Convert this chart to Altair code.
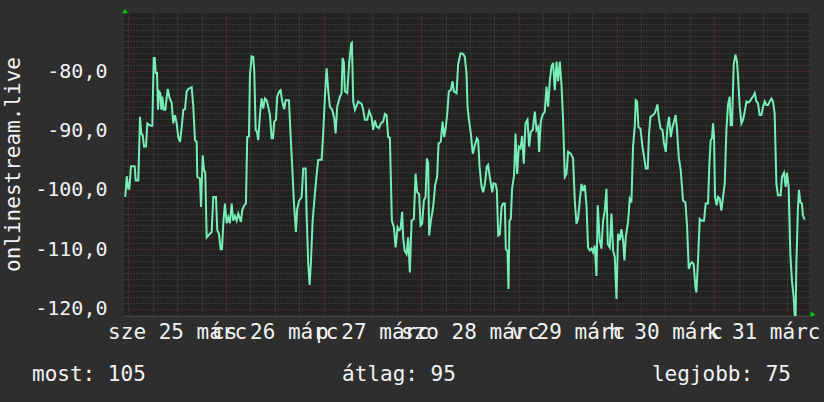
import altair as alt
import pandas as pd

# hours since 25 March 00:00 and measured value
hours = [-0.74,-0.39,0.0,0.25,0.66,1.57,1.82,2.46,2.87,3.19,3.54,3.86,4.35,4.67,5.50,5.90,6.24,6.49,6.73,7.05,
7.30,7.54,7.86,8.11,8.35,8.70,9.09,9.68,10.17,10.66,11.05,11.47,11.89,12.28,12.70,13.12,13.51,13.93,14.35,14.74,
15.57,15.97,16.38,16.80,16.95,17.61,17.86,18.28,18.60,18.91,19.26,19.65,20.07,20.49,20.88,21.54,21.86,22.28,22.70,23.02,
23.34,23.75,24.17,24.57,24.98,25.40,25.79,26.21,26.63,27.02,27.68,28.00,28.50,28.91,29.23,29.65,29.90,30.31,30.71,30.95,
31.30,31.62,31.93,32.35,32.77,33.16,33.58,34.00,34.39,34.81,35.23,35.55,35.86,36.28,36.60,37.09,37.44,37.83,38.32,38.67,
39.48,39.89,40.29,40.70,41.20,41.51,42.01,42.60,42.99,43.58,43.82,44.22,44.56,44.88,45.30,45.86,46.28,46.67,47.51,47.90,
48.32,48.74,49.13,49.55,50.11,50.60,50.95,51.34,52.00,52.42,52.67,52.99,53.23,53.80,54.29,54.78,54.95,55.28,55.69,56.11,
56.50,57.33,57.73,58.14,58.71,59.20,59.79,60.18,60.60,61.02,61.59,62.08,62.64,63.06,63.48,63.87,64.29,64.78,65.27,65.69,
66.18,66.57,66.91,67.31,67.55,67.90,68.39,68.78,69.20,69.62,70.18,70.60,70.99,71.48,71.83,72.22,72.64,73.06,73.38,73.70,
73.94,74.36,74.92,75.41,75.90,76.25,76.81,77.23,77.63,78.04,78.46,78.78,79.27,79.69,80.01,80.67,81.06,81.65,82.29,82.71,
83.13,83.37,83.69,84.18,84.67,85.17,85.66,85.98,86.32,86.81,87.21,87.62,88.11,88.43,88.85,89.10,89.43,89.77,90.27,90.59,
90.91,91.31,91.73,92.12,92.54,92.78,93.20,93.44,93.69,94.01,94.33,94.82,95.17,95.56,95.98,96.39,96.79,97.20,97.62,98.11,
98.51,98.92,99.42,99.91,100.32,100.72,100.96,101.38,101.80,102.36,102.78,103.17,103.59,104.01,104.40,104.82,105.24,105.63,106.05,106.47,
106.86,107.28,107.69,108.09,108.75,109.31,109.73,110.15,110.54,110.96,111.38,111.77,112.19,112.61,113.00,113.41,113.83,114.22,114.64,115.06,
115.38,115.87,116.29,116.68,117.10,117.52,117.84,118.33,118.75,119.14,119.56,119.98,120.37,120.79,121.20,121.60,121.94,122.26,122.83,123.25,
123.66,124.05,124.47,124.72,125.04,125.38,125.88,126.37,126.76,127.17,127.66,127.98,128.33,128.96,129.38,129.80,130.05,130.37,130.78,131.28,
131.67,132.09,132.51,132.90,133.32,133.74,134.13,134.54,134.86,135.28,135.77,136.34,136.93,137.32,137.74,138.15,138.55,138.96,139.38,139.63,
140.02,140.44,140.93,141.50,141.91,142.48,142.82,143.14,143.46,143.71,143.96,144.20,144.62,144.94,145.36,145.77,146.17,146.58,147.00,147.39,
147.81,148.05,148.37,148.79,149.21,149.60,149.85,150.27,150.69,151.08,151.50,151.92,152.31,152.73,153.15,153.54,153.96,154.37,154.77,155.18,
155.60,156.00,156.42,156.83,157.23,157.65,158.07,158.45,158.86,159.28,159.67,160.34,160.66,161.15,161.57,161.89,162.30,162.72,163.11,163.53,
163.78,164.02,164.19,164.58,164.83,165.17,165.57,165.81,166.23]

values = [-101.2,-97.7,-99.8,-99.8,-96.0,-96.0,-98.4,-98.4,-87.7,-90.5,-90.8,-92.7,-92.7,-88.8,-89.2,-89.2,-77.8,-77.8,-80.3,-80.3,
-86.5,-83.4,-83.7,-86.5,-84.3,-86.5,-86.5,-83.0,-84.6,-85.4,-88.8,-87.4,-88.8,-91.1,-91.9,-89.5,-86.5,-86.4,-83.4,-83.0,
-82.7,-86.0,-91.6,-91.9,-97.8,-98.1,-102.9,-94.2,-96.7,-97.0,-108.0,-107.7,-107.4,-107.1,-101.2,-101.2,-106.8,-107.4,-110.0,-110.0,
-105.7,-102.3,-105.6,-104.6,-105.6,-102.3,-105.2,-104.4,-105.2,-104.0,-105.4,-103.4,-102.6,-102.3,-91.1,-91.0,-80.6,-77.5,-77.6,-79.8,
-89.9,-90.2,-91.6,-87.4,-84.6,-86.3,-84.6,-84.9,-86.0,-87.4,-91.3,-91.3,-88.5,-88.2,-84.3,-83.4,-83.2,-85.1,-86.4,-84.9,
-84.9,-90.8,-96.1,-102.1,-107.1,-103.2,-101.8,-101.2,-96.4,-96.4,-104.0,-112.5,-116.0,-112.2,-105.2,-100.6,-97.5,-95.0,-94.9,-90.5,
-84.3,-79.5,-83.2,-86.0,-86.5,-87.9,-90.5,-86.0,-84.3,-83.7,-77.8,-78.6,-83.4,-83.7,-78.6,-75.3,-75.2,-85.1,-86.5,-85.8,
-85.1,-85.5,-86.5,-88.2,-88.2,-86.7,-87.8,-89.9,-88.3,-89.3,-89.6,-88.8,-88.5,-87.2,-87.4,-91.1,-91.2,-105.2,-106.3,-109.7,
-106.3,-106.8,-106.6,-103.7,-108.0,-110.2,-110.8,-108.0,-113.9,-105.2,-104.9,-97.3,-100.4,-100.7,-106.0,-105.7,-101.8,-101.2,-94.7,-95.5,
-107.7,-105.2,-102.9,-99.2,-97.8,-92.2,-91.9,-88.5,-91.1,-89.4,-86.5,-83.4,-83.2,-81.7,-83.4,-83.7,-78.9,-77.0,-77.1,-77.6,
-80.5,-86.0,-88.0,-90.5,-93.9,-92.5,-91.3,-91.6,-96.0,-99.4,-100.4,-99.1,-96.1,-95.8,-97.8,-98.9,-100.4,-98.9,-99.0,-100.1,
-107.7,-107.5,-102.9,-102.3,-102.3,-110.0,-110.3,-116.7,-105.2,-104.9,-99.8,-97.5,-90.5,-97.3,-92.7,-93.0,-90.9,-95.6,-88.8,-88.2,
-92.7,-90.2,-89.9,-86.8,-89.9,-89.4,-93.6,-88.5,-87.4,-86.8,-82.6,-86.0,-81.7,-79.2,-78.6,-83.2,-78.4,-81.7,-78.4,-82.3,
-88.2,-97.8,-97.3,-93.6,-93.9,-94.7,-101.8,-105.7,-104.9,-101.8,-99.0,-100.2,-99.2,-102.6,-109.7,-110.2,-109.9,-110.5,-109.4,-114.5,
-102.6,-108.5,-109.9,-105.2,-103.5,-99.8,-109.1,-109.7,-104.0,-110.2,-111.3,-118.4,-107.4,-108.5,-106.6,-108.5,-111.9,-108.0,-105.4,-101.5,
-102.1,-92.7,-89.4,-84.9,-85.1,-89.4,-89.7,-92.7,-94.4,-96.4,-96.4,-90.5,-87.7,-87.4,-87.1,-86.2,-85.6,-87.8,-89.6,-89.9,
-92.2,-93.6,-89.4,-87.7,-91.1,-89.4,-88.5,-87.4,-89.9,-94.4,-96.7,-101.8,-102.1,-105.9,-113.3,-112.5,-112.2,-112.5,-116.4,-117.3,
-111.9,-104.9,-105.2,-105.2,-102.3,-102.3,-95.6,-91.6,-91.3,-88.8,-91.0,-101.2,-102.6,-101.2,-101.5,-103.5,-101.2,-99.0,-89.9,-85.7,
-84.3,-89.1,-89.1,-78.9,-77.2,-78.4,-80.9,-86.0,-88.8,-88.2,-86.8,-85.1,-85.3,-85.1,-84.6,-84.3,-83.7,-85.1,-85.4,-87.4,
-87.4,-86.0,-85.1,-85.7,-85.7,-85.1,-84.6,-85.1,-87.1,-99.0,-100.9,-100.9,-97.8,-97.1,-99.5,-97.1,-99.5,-111.0,-115.3,-118.1,
-121.2,-121.2,-112.5,-103.2,-100.0,-102.1,-102.3,-104.3,-105.0]

day_labels = ["sze 25 márc", "cs 26 márc", "p 27 márc", "szo 28 márc",
              "v 29 márc", "h 30 márc", "k 31 márc"]
x_ticks = list(range(0, 168, 6))
y_ticks = list(range(-121, -70))
x_domain = [-1.06, 167.3]
y_domain = [-121.25, -70.2]
y_title = "onlinestream.live"
summary_texts = ["most: 105", "átlag: 95", "legjobb: 75"]

MONO = "DejaVu Sans Mono"
TXT = "#f2f2f2"
RED = "#7e3636"
GRAY = "#4e4e4e"
LINE = "#76eeb6"
BG = "#2e2e2e"

df = pd.DataFrame({"h": hours, "v": values})

label_arr = "[" + ",".join("'%s'" % s for s in day_labels) + "]"

x_axis = alt.Axis(
    values=x_ticks, grid=True,
    gridColor={"condition": {"test": "datum.value % 24 === 0", "value": RED}, "value": GRAY},
    gridDash=[1, 2], gridWidth=1, ticks=False,
    labelExpr=f"datum.value % 24 === 12 ? {label_arr}[floor(datum.value / 24)] : ''",
    labelOverlap=False, labelFlush=False, labelBound=False,
    labelFont=MONO, labelFontSize=21, labelColor=TXT, labelPadding=5,
    domainColor="#444444", title=None,
)
y_axis = alt.Axis(
    values=y_ticks, grid=True,
    gridColor={"condition": {"test": "datum.value % 10 === 0", "value": RED}, "value": GRAY},
    gridDash=[1, 2], gridWidth=1, ticks=False,
    labelExpr="datum.value % 10 === 0 ? (datum.value < 0 ? '-' : '') + abs(datum.value) + ',0' : ''",
    labelOverlap=False, labelFlush=False, labelBound=False,
    labelFont=MONO, labelFontSize=20, labelColor=TXT, labelPadding=17,
    labelAlign="right", labelBaseline="middle",
    domain=False,
    title=y_title, titleFont=MONO, titleFontSize=21, titleFontWeight="normal",
    titleColor=TXT, titleAngle=-90, titleX=-105, titleY=151,
    titleBaseline="alphabetic", titleAlign="center",
)

line = alt.Chart(df).mark_line(color=LINE, strokeWidth=2, clip=True).encode(
    x=alt.X("h:Q", scale=alt.Scale(domain=x_domain, nice=False, zero=False), axis=x_axis),
    y=alt.Y("v:Q", scale=alt.Scale(domain=y_domain, nice=False, zero=False), axis=y_axis),
)

arrow_up = alt.Chart(pd.DataFrame({"a": [1]})).mark_point(
    shape="triangle-up", filled=True, color="#00d000", size=30, opacity=1
).encode(x=alt.value(1), y=alt.value(-2))
arrow_right = alt.Chart(pd.DataFrame({"a": [1]})).mark_point(
    shape="triangle-right", filled=True, color="#00d000", size=30, opacity=1
).encode(x=alt.value(689), y=alt.value(301.5))

aligns = ["left", "center", "right"]
xs = [-92, 275, 667]
texts = []
for t, a, xv in zip(summary_texts, aligns, xs):
    texts.append(
        alt.Chart(pd.DataFrame({"t": [t]})).mark_text(
            font=MONO, fontSize=21, color=TXT, align=a, baseline="alphabetic"
        ).encode(text="t:N", x=alt.value(xv), y=alt.value(368))
    )

chart = alt.layer(line, arrow_up, arrow_right, *texts).properties(
    width=685, height=303,
    padding={"left": 124, "top": 13, "right": 15, "bottom": 86},
    autosize=alt.AutoSizeParams(type="none"),
    background=BG,
).configure_view(fill="#222222", strokeWidth=0)

TEMPLATE_SRC = """<!DOCTYPE html>
<html>
<head>
  <meta charset="utf-8">
  <style>
    html, body { margin: 0; padding: 0; background: %s; }
    #{{ output_div }}.vega-embed { width: 100%%; display: flex; }
    #{{ output_div }}.vega-embed details,
    #{{ output_div }}.vega-embed details summary { position: relative; }
  </style>
  <script type="text/javascript" src="{{ base_url }}/vega@{{ vega_version }}"></script>
  <script type="text/javascript" src="{{ base_url }}/vega-lite@{{ vegalite_version }}"></script>
  <script type="text/javascript" src="{{ base_url }}/vega-embed@{{ vegaembed_version }}"></script>
</head>
<body>
  <div id="{{ output_div }}"></div>
  <script type="text/javascript">
    (function(vegaEmbed) {
      var spec = {{ spec }};
      var embedOpt = {{ embed_options }};
      function showError(el, error) {
        el.innerHTML = ('<div style="color:red;"><p>JavaScript Error: ' + error.message + '</p></div>');
        throw error;
      }
      const el = document.getElementById('{{ output_div }}');
      vegaEmbed("#{{ output_div }}", spec, embedOpt).catch(error => showError(el, error));
    })(vegaEmbed);
  </script>
</body>
</html>
""" % BG

try:
    import jinja2
    chart.save("out.html", embed_options={"renderer": "svg", "actions": False},
               template=jinja2.Template(TEMPLATE_SRC))
except Exception:
    chart.save("out.html", embed_options={"renderer": "svg", "actions": False})
